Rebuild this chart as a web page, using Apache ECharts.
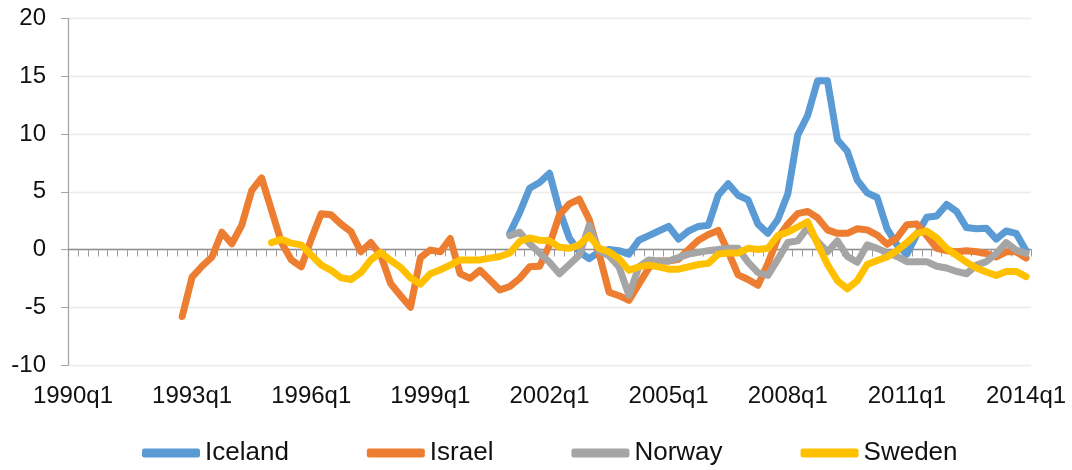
<!DOCTYPE html>
<html>
<head>
<meta charset="utf-8">
<script src="https://cdn.jsdelivr.net/npm/echarts@6/dist/echarts.min.js"></script>
<style>
  html, body { margin: 0; padding: 0; background: #fff; }
  #chart { width: 1072px; height: 470px; }
</style>
</head>
<body>
<div id="chart"></div>
<script>
// quarters 1990q1 .. 2014q1
const categories = [];
for (let y = 1990; y <= 2014; y++) {
  for (let q = 1; q <= 4; q++) {
    if (y === 2014 && q > 1) break;
    categories.push(y + 'q' + q);
  }
}

const yTicks = [-10, -5, 0, 5, 10, 15, 20];

const icelandStart = '2001q1';
const iceland = [1.4, 3.2, 5.3, 5.8, 6.6, 3.4, 1.0, -0.2, -0.8, -0.2,
  0.0, -0.1, -0.4, 0.8, 1.2, 1.6, 2.0, 0.9, 1.6, 2.0,
  2.1, 4.7, 5.7, 4.7, 4.3, 2.2, 1.4, 2.6, 4.8, 9.9,
  11.6, 14.6, 14.6, 9.5, 8.5, 6.0, 4.9, 4.5, 1.8, 0.4,
  -0.4, 1.3, 2.8, 2.9, 3.9, 3.3, 1.9, 1.8, 1.85, 0.9,
  1.6, 1.4, -0.1];

const israelStart = '1992q4';
const israel = [-5.8, -2.4, -1.45, -0.65, 1.5, 0.5, 2.1, 5.1, 6.2, 3.4,
  0.6, -0.9, -1.5, 0.9, 3.1, 3.0, 2.2, 1.55, -0.2, 0.6,
  -0.5, -2.95, -4.0, -5.0, -0.7, -0.05, -0.2, 0.95, -2.1, -2.5,
  -1.8, -2.65, -3.5, -3.2, -2.5, -1.5, -1.45, 0.4, 3.0, 3.95,
  4.35, 2.6, -0.4, -3.7, -4.0, -4.4, -3.0, -1.6, -1.0, -1.0,
  -0.85, 0.0, 0.8, 1.3, 1.65, -0.2, -2.2, -2.6, -3.1, -1.2,
  1.0, 2.2, 3.1, 3.3, 2.75, 1.7, 1.4, 1.4, 1.8, 1.7,
  1.25, 0.45, 1.0, 2.15, 2.2, 1.2, 0.1, -0.1, -0.2, -0.1,
  -0.2, -0.35, -0.65, -0.2, -0.2, -0.75];

const norwayStart = '2001q1';
const norway = [1.2, 1.5, 0.5, -0.3, -1.1, -2.1, -1.3, -0.5, 2.1, -0.1,
  -0.55, -1.5, -3.95, -1.5, -0.9, -1.0, -1.0, -0.7, -0.4, -0.25,
  -0.1, 0.0, 0.1, 0.1, -1.1, -2.0, -2.25, -0.85, 0.6, 0.75,
  1.9, 0.7, -0.2, 0.75, -0.6, -1.1, 0.4, 0.1, -0.27, -0.6,
  -1.05, -1.05, -1.05, -1.45, -1.6, -1.9, -2.1, -1.35, -1.05, -0.35,
  0.6, -0.05, -0.33];

const swedenStart = '1995q1';
const sweden = [0.6, 0.88, 0.55, 0.4, -0.48, -1.34, -1.8, -2.45, -2.6, -2.0,
  -0.9, -0.25, -0.95, -1.55, -2.45, -3.0, -2.1, -1.75, -1.35, -0.9,
  -0.9, -0.9, -0.75, -0.6, -0.3, 0.7, 1.0, 0.8, 0.75, 0.2,
  0.1, 0.4, 1.2, 0.1, -0.2, -0.8, -1.8, -1.5, -1.35, -1.5,
  -1.7, -1.7, -1.5, -1.3, -1.2, -0.4, -0.3, -0.3, 0.1, 0.0,
  0.1, 1.2, 1.5, 1.95, 2.4, 0.5, -1.3, -2.7, -3.4, -2.7,
  -1.3, -0.95, -0.65, -0.1, 0.6, 1.4, 1.6, 1.0, 0.1, -0.5,
  -1.1, -1.6, -1.95, -2.25, -1.9, -1.9, -2.35];

// put a series on the full quarter axis, empty before it starts
function pad(start, values) {
  const idx = categories.indexOf(start);
  return categories.map((c, k) => (k < idx ? null : values[k - idx]));
}

const seriesDefs = [
  { name: 'Iceland', color: '#5B9BD5', data: pad(icelandStart, iceland) },
  { name: 'Israel', color: '#ED7D31', data: pad(israelStart, israel) },
  { name: 'Norway', color: '#A5A5A5', data: pad(norwayStart, norway) },
  { name: 'Sweden', color: '#FFC000', data: pad(swedenStart, sweden) },
];

const font = 'Liberation Sans';
const chart = echarts.init(document.getElementById('chart'), null, { renderer: 'canvas' });

const option = {
  animation: false,
  backgroundColor: '#fff',
  grid: { left: 68, right: 41, top: 18.5, bottom: 105, outerBoundsMode: 'none' },
  legend: {
    left: 137,
    top: 435,
    icon: 'roundRect',
    itemWidth: 58,
    itemHeight: 9,
    itemGap: 78,
    textStyle: { fontFamily: font, fontSize: 26, color: '#111' },
    data: seriesDefs.map((s) => s.name),
  },
  xAxis: [
    {
      type: 'category',
      data: categories,
      boundaryGap: true,
      axisLine: { onZero: true, lineStyle: { color: '#8c8c8c', width: 1.3 } },
      axisTick: { show: true, interval: 0, length: 7, lineStyle: { color: '#9a9a9a' } },
      axisLabel: { show: false },
      splitLine: { show: false },
    },
    {
      type: 'category',
      data: categories,
      position: 'bottom',
      boundaryGap: true,
      axisLine: { show: false, onZero: false },
      axisTick: { show: false },
      axisLabel: {
        interval: 11,
        margin: 19,
        fontFamily: font,
        fontSize: 24,
        color: '#111',
      },
      splitLine: { show: false },
    },
  ],
  yAxis: {
    type: 'value',
    min: yTicks[0],
    max: yTicks[yTicks.length - 1],
    interval: 5,
    axisLine: { show: true, lineStyle: { color: '#a6a6a6', width: 1.3 } },
    axisTick: { show: true, length: 7, lineStyle: { color: '#a6a6a6' } },
    axisLabel: { margin: 22, fontFamily: font, fontSize: 24, color: '#111' },
    splitLine: { lineStyle: { color: '#ebebeb', width: 1.3 } },
  },
  series: seriesDefs.map((s) => ({
    name: s.name,
    type: 'line',
    xAxisIndex: 0,
    data: s.data,
    showSymbol: false,
    connectNulls: false,
    color: s.color,
    lineStyle: { width: 7, color: s.color, cap: 'round', join: 'round' },
  })),
};

chart.setOption(option);
</script>
</body>
</html>
